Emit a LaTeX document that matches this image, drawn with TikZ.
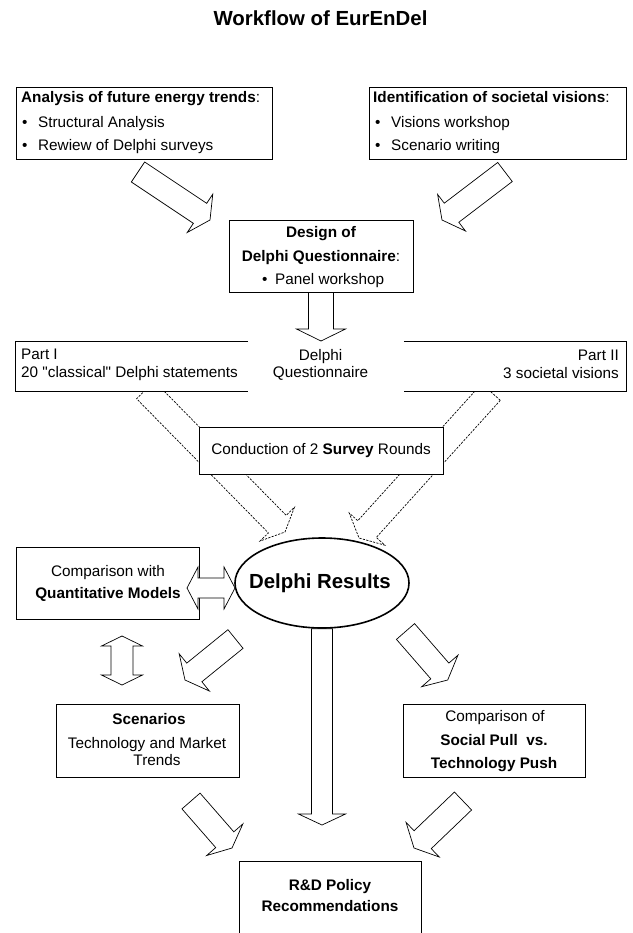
\documentclass[tikz,border=0pt]{standalone}
\usepackage{fontspec}
\setmainfont{Liberation Sans}[Ligatures=TeXOff]
\usetikzlibrary{calc,shapes.geometric,backgrounds}

% hollow block arrow: [style]{tail}{tip}{half shaft width}{half head width}{head length}
\newcommand\hollowarrow[6][]{%
  \coordinate (ha-base) at ($(#3)!#6!(#2)$);
  \draw[blockarrow,#1] ($(#2)!#4!90:(#3)$) -- ($(ha-base)!#4!90:(#3)$)
    -- ($(ha-base)!#5!90:(#3)$) -- (#3) -- ($(ha-base)!#5!-90:(#3)$)
    -- ($(ha-base)!#4!-90:(#3)$) -- ($(#2)!#4!-90:(#3)$) -- cycle;
}
% hollow block arrow with a head at both ends: {end a}{end b}{half shaft}{half head}{head length}
\newcommand\hollowdoublearrow[5]{%
  \coordinate (hd-a) at ($(#1)!#5!(#2)$);
  \coordinate (hd-b) at ($(#2)!#5!(#1)$);
  \draw[blockarrow] (#1) -- ($(hd-a)!#4!90:(#2)$) -- ($(hd-a)!#3!90:(#2)$)
    -- ($(hd-b)!#3!-90:(#1)$) -- ($(hd-b)!#4!-90:(#1)$) -- (#2)
    -- ($(hd-b)!#4!90:(#1)$) -- ($(hd-b)!#3!90:(#1)$)
    -- ($(hd-a)!#3!-90:(#2)$) -- ($(hd-a)!#4!-90:(#2)$) -- cycle;
}

\tikzset{
  box/.style={draw, line width=0.9pt, fill=white, inner sep=0pt},
  openbox/.style={line width=0.9pt},
  txt/.style={font=\fontsize{15.3}{18}\selectfont, inner sep=0pt, anchor=base},
  bigtxt/.style={font=\fontsize{20.4}{24}\selectfont\bfseries, inner sep=0pt, anchor=base},
  blockarrow/.style={draw, fill=white, line width=0.7pt, line join=miter},
  dashedarrow/.style={dash pattern=on 2.2pt off 1.3pt},
}

\begin{document}
\begin{tikzpicture}[x=1pt,y=-1pt]
\useasboundingbox (0,0) rectangle (632,933);
\clip (0,0) rectangle (632,933);

% title
\node[bigtxt] (title) at (320.5,26) {Workflow of EurEnDel};

% inputs
\node[box, minimum width=256pt, minimum height=72pt] (trends) at (144,123) {};
\node[txt, anchor=base west] (trends-h) at (21,103) {{\bfseries Analysis of future energy trends}:};
\node[txt, anchor=base west] (trends-1) at (22,128) {\makebox[16pt][l]{•}Structural Analysis};
\node[txt, anchor=base west] (trends-2) at (22,151) {\makebox[16pt][l]{•}Rewiew of Delphi surveys};

\node[box, minimum width=257pt, minimum height=72pt] (visions) at (497.5,123) {};
\node[txt, anchor=base west] (visions-h) at (373,103) {{\bfseries Identification of societal visions}:};
\node[txt, anchor=base west] (visions-1) at (375,128) {\makebox[16pt][l]{•}Visions workshop};
\node[txt, anchor=base west] (visions-2) at (375,151) {\makebox[16pt][l]{•}Scenario writing};

% questionnaire design
\node[box, minimum width=184pt, minimum height=72pt] (design) at (321,256) {};
\node[txt] (design-1) at (321,237) {\bfseries Design of};
\node[txt] (design-2) at (321,261) {{\bfseries Delphi Questionnaire}:};
\node[txt, anchor=base west] (design-3) at (262,284) {\makebox[13pt][l]{•}Panel workshop};

% questionnaire parts
\node[fill=white, inner sep=0pt, minimum width=232pt, minimum height=49pt] (part1) at (132,366.5) {};
\draw[openbox] (part1.north east) -- (part1.north west) -- (part1.south west) -- (part1.south east);
\node[txt, anchor=base west] (part1-1) at (21,359) {Part I};
\node[txt, anchor=base west] (part1-2) at (21,377) {20 "classical" Delphi statements};

\node[fill=white, inner sep=0pt, minimum width=222pt, minimum height=49pt] (part2) at (515,366.5) {};
\draw[openbox] (part2.north west) -- (part2.north east) -- (part2.south east) -- (part2.south west);
\node[txt, anchor=base east] (part2-1) at (619,360) {Part II};
\node[txt, anchor=base east] (part2-2) at (619,378) {3 societal visions};

\node[txt] (quest-1) at (320.5,360) {Delphi};
\node[txt] (quest-2) at (320.5,377) {Questionnaire};

% survey rounds
\node[box, minimum width=244pt, minimum height=47pt] (survey) at (321,450.5) {};
\node[txt] (survey-t) at (321,454) {Conduction of 2 {\bfseries Survey} Rounds};

% results
\node[draw, ellipse, line width=1.6pt, fill=white, minimum width=174pt, minimum height=90pt, inner sep=0pt] (results) at (322,583) {};
\node[bigtxt] (results-t) at (320,588) {Delphi Results};

\node[box, minimum width=183pt, minimum height=72pt] (models) at (107.5,583) {};
\node[txt] (models-1) at (108,576) {Comparison with};
\node[txt] (models-2) at (108,598) {\bfseries Quantitative Models};

\node[box, minimum width=183pt, minimum height=73pt] (scen) at (147.5,740.5) {};
\node[txt] (scen-1) at (149,724) {\bfseries Scenarios};
\node[txt] (scen-2) at (147,748) {Technology and Market};
\node[txt] (scen-3) at (157,765) {Trends};

\node[box, minimum width=182pt, minimum height=73pt] (pushpull) at (494,740.5) {};
\node[txt] (pushpull-1) at (495,721) {Comparison of};
\node[txt] (pushpull-2) at (494,745) {\bfseries Social Pull\ \ vs.};
\node[txt] (pushpull-3) at (494,768) {\bfseries Technology Push};

\node[box, minimum width=182pt, minimum height=100pt] (policy) at (330,911) {};
\node[txt] (policy-1) at (330,890) {\bfseries R\&D Policy};
\node[txt] (policy-2) at (330,911) {\bfseries Recommendations};

% arrow end points
\coordinate (a1t) at (138,172);   \coordinate (a1h) at (210,220);
\coordinate (a2t) at (505,172);   \coordinate (a2h) at (442,220);
\coordinate (a3h) at (321,341);
\coordinate (d1t) at (145.5,390); \coordinate (d1h) at (285,532);
\coordinate (d2t) at (491,392);   \coordinate (d2h) at (359,538);
\coordinate (m1) at (187,588);    \coordinate (m2) at (235,588);
\coordinate (v1) at (122,636);    \coordinate (v2) at (122,685);
\coordinate (r1t) at (235.5,639); \coordinate (r1h) at (185,680);
\coordinate (r2t) at (405.5,631.5); \coordinate (r2h) at (447.7,680);
\coordinate (r3h) at (322,825);
\coordinate (s1t) at (191,801);   \coordinate (s1h) at (232,848);
\coordinate (s2t) at (463,801);   \coordinate (s2h) at (414,848);

% survey flows pass behind the survey box
\begin{scope}[on background layer]
\hollowarrow[dashedarrow]{d1t}{d1h}{12.5pt}{24pt}{11pt}
\hollowarrow[dashedarrow]{d2t}{d2h}{12.5pt}{24pt}{12pt}
\end{scope}

\hollowarrow{a1t}{a1h}{12pt}{23pt}{12pt}
\hollowarrow{a2t}{a2h}{12pt}{23pt}{12pt}
\hollowarrow{design.south}{a3h}{12.5pt}{24.5pt}{12pt}
\hollowdoublearrow{m1}{m2}{10pt}{21pt}{11pt}
\hollowdoublearrow{v1}{v2}{11pt}{20.5pt}{10pt}
\hollowarrow{r1t}{r1h}{12pt}{24pt}{12pt}
\hollowarrow{r2t}{r2h}{12pt}{24pt}{12pt}
\hollowarrow{results.south}{r3h}{10.5pt}{23.5pt}{11pt}
\hollowarrow{s1t}{s1h}{12pt}{24pt}{11pt}
\hollowarrow{s2t}{s2h}{12.4pt}{24pt}{12pt}
\end{tikzpicture}
\end{document}
